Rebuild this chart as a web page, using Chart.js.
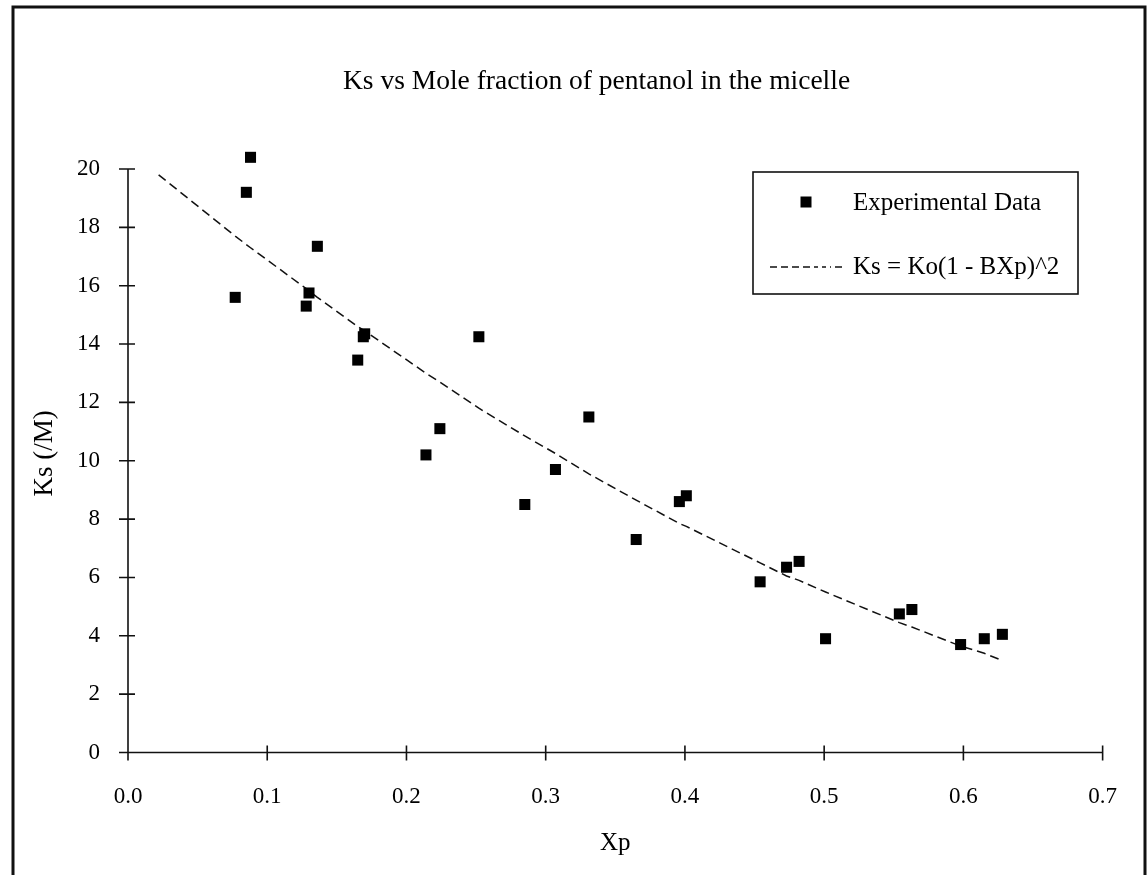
<!DOCTYPE html>
<html>
<head>
<meta charset="utf-8">
<script src="https://cdn.jsdelivr.net/npm/chart.js@4/dist/chart.umd.min.js"></script>
<style>
  html, body { margin: 0; padding: 0; background: #fff; }
  #wrap { width: 1148px; height: 875px; position: relative; }
</style>
</head>
<body>
<div id="wrap"><canvas id="c" width="1148" height="875"></canvas></div>
<script>
// ---- data ----
const chartTitle = "Ks vs Mole fraction of pentanol in the micelle";
const xAxisTitle = "Xp";
const yAxisTitle = "Ks (/M)";
const expLabel = "Experimental Data";
const fitLabel = "Ks = Ko(1 - BXp)^2";

const expX = [0.077, 0.085, 0.088, 0.128, 0.130, 0.136, 0.165, 0.169, 0.170, 0.214, 0.224, 0.252,
              0.285, 0.307, 0.331, 0.365, 0.396, 0.401, 0.454, 0.473, 0.482, 0.501, 0.554, 0.563,
              0.598, 0.615, 0.628];
const expY = [15.6, 19.2, 20.4, 15.3, 15.75, 17.35, 13.45, 14.25, 14.35, 10.2, 11.1, 14.25,
              8.5, 9.7, 11.5, 7.3, 8.6, 8.8, 5.85, 6.35, 6.55, 3.9, 4.75, 4.9,
              3.7, 3.9, 4.05];

const fitX = [0.022, 0.077, 0.088, 0.128, 0.136, 0.165, 0.170, 0.214, 0.224, 0.252, 0.285, 0.307,
              0.331, 0.365, 0.396, 0.401, 0.454, 0.473, 0.482, 0.501, 0.554, 0.563, 0.598, 0.615, 0.628];
const fitY = [19.8, 17.7, 17.3, 15.9, 15.6, 14.6, 14.45, 13.0, 12.7, 11.8, 10.85, 10.25,
              9.55, 8.65, 7.85, 7.75, 6.5, 6.05, 5.9, 5.5, 4.45, 4.3, 3.65, 3.4, 3.15];

const xTicks = [0, 0.1, 0.2, 0.3, 0.4, 0.5, 0.6, 0.7];
const yTicks = [0, 2, 4, 6, 8, 10, 12, 14, 16, 18, 20];
const yAxisTop = 20;     // axis line ends at the last tick
const yScaleMax = 20.5;  // headroom so the 20.4 point is drawn

const FONT = "'Liberation Serif', 'Times New Roman', serif";

const toPoints = (xs, ys) => xs.map((v, i) => ({ x: v, y: ys[i] }));

// frame border, white background and chart title
const framePlugin = {
  id: 'frame',
  beforeDraw(chart) {
    const ctx = chart.ctx;
    ctx.save();
    ctx.fillStyle = '#fff';
    ctx.fillRect(0, 0, chart.width, chart.height);
    ctx.strokeStyle = '#111';
    ctx.lineWidth = 3;
    ctx.beginPath();
    ctx.moveTo(13, 875);
    ctx.lineTo(13, 7);
    ctx.lineTo(1145, 7);
    ctx.lineTo(1145, 875);
    ctx.stroke();
    ctx.font = '27.5px ' + FONT;
    ctx.fillStyle = '#000';
    ctx.textAlign = 'left';
    ctx.textBaseline = 'alphabetic';
    ctx.fillText(chartTitle, 343, 89);
    ctx.restore();
  }
};

// axes with crossing tick marks
const axesPlugin = {
  id: 'axesCross',
  beforeDatasetsDraw(chart) {
    const { ctx, scales: { x, y } } = chart;
    const x0 = x.getPixelForValue(0);
    const xEnd = x.getPixelForValue(0.7);
    const y0 = y.getPixelForValue(0);
    const yTop = y.getPixelForValue(yAxisTop);
    ctx.save();
    ctx.strokeStyle = '#111';
    ctx.lineWidth = 1.6;
    ctx.beginPath();
    ctx.moveTo(x0 - 9, y0); ctx.lineTo(xEnd, y0);
    ctx.moveTo(x0, yTop); ctx.lineTo(x0, y0 + 8);
    x.ticks.forEach(t => {
      const px = x.getPixelForValue(t.value);
      ctx.moveTo(px, y0 - 7); ctx.lineTo(px, y0 + 8);
    });
    y.ticks.forEach(t => {
      const py = y.getPixelForValue(t.value);
      ctx.moveTo(x0 - 9, py); ctx.lineTo(x0 + 7, py);
    });
    ctx.stroke();
    ctx.restore();
  }
};

// boxed legend inside the plot
const legendPlugin = {
  id: 'boxLegend',
  afterDraw(chart) {
    const ctx = chart.ctx;
    const ds = chart.data.datasets;
    ctx.save();
    ctx.strokeStyle = '#111';
    ctx.lineWidth = 1.6;
    ctx.strokeRect(753, 172, 325, 122);
    ctx.fillStyle = '#000';
    ctx.fillRect(800.5, 196.5, 11, 11);
    ctx.lineWidth = 1.4;
    ctx.setLineDash([7, 4]);
    ctx.beginPath();
    ctx.moveTo(770, 267); ctx.lineTo(818, 267);
    ctx.stroke();
    ctx.setLineDash([]);
    ctx.beginPath();
    ctx.moveTo(822, 267); ctx.lineTo(826, 267);
    ctx.moveTo(830, 267); ctx.lineTo(831, 267);
    ctx.moveTo(835, 267); ctx.lineTo(842, 267);
    ctx.stroke();
    ctx.font = '25px ' + FONT;
    ctx.fillStyle = '#000';
    ctx.textBaseline = 'middle';
    ctx.textAlign = 'left';
    ctx.fillText(ds[0].label, 853, 203);
    ctx.fillText(ds[1].label, 853, 267);
    ctx.restore();
  }
};

new Chart(document.getElementById('c'), {
  type: 'scatter',
  data: {
    datasets: [
      {
        label: expLabel,
        data: toPoints(expX, expY),
        pointStyle: 'rect',
        pointRadius: 7.8,
        pointHoverRadius: 7.8,
        backgroundColor: '#000',
        borderColor: '#000',
        borderWidth: 0,
        showLine: false,
        clip: false
      },
      {
        label: fitLabel,
        data: toPoints(fitX, fitY),
        showLine: true,
        pointRadius: 0,
        borderColor: '#111',
        borderWidth: 1.5,
        borderDash: [9, 5],
        tension: 0,
        fill: false,
        clip: false
      }
    ]
  },
  options: {
    responsive: false,
    animation: false,
    layout: { padding: { left: 0, right: 38, top: 154.4, bottom: 0 } },
    plugins: {
      legend: { display: false },
      tooltip: { enabled: false },
      title: { display: false }
    },
    scales: {
      x: {
        type: 'linear',
        min: 0, max: 0.7,
        afterBuildTicks(scale) { scale.ticks = xTicks.map(v => ({ value: v })); },
        grid: { display: false, drawTicks: false },
        border: { display: false },
        ticks: {
          color: '#000',
          padding: 31,
          font: { family: FONT, size: 23 },
          callback: v => Number(v).toFixed(1)
        },
        title: {
          display: true,
          text: xAxisTitle,
          color: '#000',
          font: { family: FONT, size: 25 },
          padding: { top: 0, bottom: 17 }
        },
        afterFit(scale) { scale.height = 122.5; }
      },
      y: {
        type: 'linear',
        min: 0, max: yScaleMax,
        afterBuildTicks(scale) { scale.ticks = yTicks.map(v => ({ value: v })); },
        grid: { display: false, drawTicks: false },
        border: { display: false },
        ticks: {
          color: '#000',
          padding: 28,
          font: { family: FONT, size: 23 },
          callback: v => String(v)
        },
        title: {
          display: true,
          text: yAxisTitle,
          color: '#000',
          font: { family: FONT, size: 27 },
          padding: { top: 29, bottom: 0 }
        },
        afterFit(scale) { scale.width = 128; }
      }
    }
  },
  plugins: [framePlugin, axesPlugin, legendPlugin]
});
</script>
</body>
</html>
